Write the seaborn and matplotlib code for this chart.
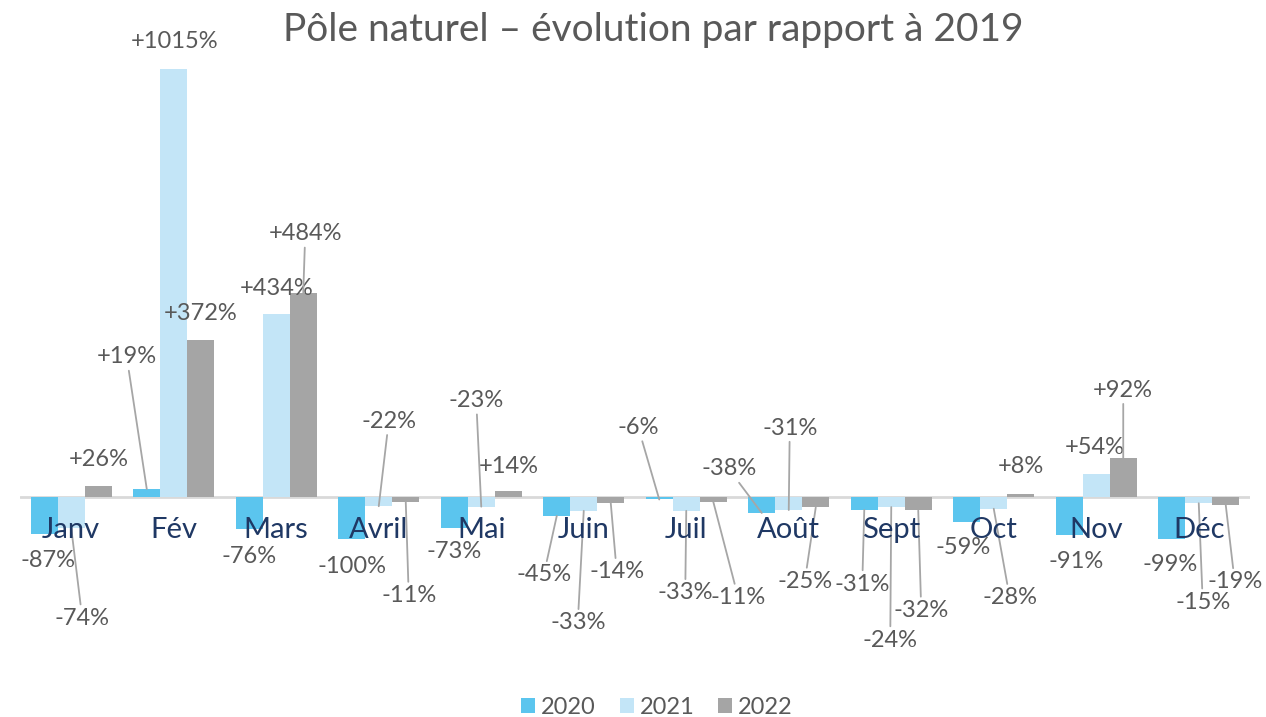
import matplotlib
matplotlib.use("Agg")
import matplotlib.pyplot as plt
import seaborn as sns
import pandas as pd

# ---- data ----
months = ["Janv", "Fév", "Mars", "Avril", "Mai", "Juin", "Juil", "Août", "Sept", "Oct", "Nov", "Déc"]
years = ["2020", "2021", "2022"]
v2020 = [-87, 19, -76, -100, -73, -45, -6, -38, -31, -59, -91, -99]
v2021 = [-74, 1015, 434, -22, -23, -33, -33, -31, -24, -28, 54, -15]
v2022 = [26, 372, 484, -11, 14, -14, -11, -25, -32, 8, 92, -19]
title = "Pôle naturel – évolution par rapport à 2019"

# label offsets (pixels, dx right, dy down) relative to bar end, and whether a leader line is drawn
off2020 = [(4, 27, 0), (-20, -132, 1), (0, 27, 0), (0, 27, 0), (0, 24, 0), (-13, 59, 1),
           (-21, -72, 1), (-33, -44, 1), (-2, 74, 1), (-4, 26, 0), (7, 26, 0), (-2, 26, 0)]
off2021 = [(11, 90, 1), (1, -27, 0), (0, -25, 0), (10, -85, 1), (-5, -106, 1), (-6, 112, 1),
           (-1, 82, 1), (1, -82, 1), (-1, 133, 1), (16, 89, 1), (-1, -27, 0), (4, 99, 1)]
off2022 = [(1, -26, 0), (0, -27, 0), (2, -59, 1), (3, 94, 1), (1, -25, 0), (6, 69, 1),
           (25, 96, 1), (-11, 74, 1), (3, 100, 1), (0, -27, 0), (0, -68, 1), (9, 77, 1)]

colors = ["#5BC5EE", "#C3E5F7", "#A5A5A5"]

df = pd.DataFrame({
    "mois": months * 3,
    "annee": [y for y in years for _ in months],
    "valeur": v2020 + v2021 + v2022,
})

sns.set_theme(style="white")
plt.rcParams["font.family"] = ["Lato", "DejaVu Sans"]

fig = plt.figure(figsize=(12.66, 7.17), dpi=100)
ax = fig.add_axes([20 / 1266, 37 / 717, 1230 / 1266, 620 / 717])

sns.barplot(data=df, x="mois", y="valeur", hue="annee", order=months, hue_order=years,
            palette=colors, saturation=1, width=0.79, ax=ax, zorder=2, legend=True,
            linewidth=0, edgecolor="none")

ax.set_xlim(-0.5, 11.5)
ax.set_ylim(-434, 1036)
ax.axhline(0, color="#D9D9D9", lw=2, zorder=1)
for s in ax.spines.values():
    s.set_visible(False)
ax.set_xticks([])
ax.set_yticks([])
ax.set_xlabel("")
ax.set_ylabel("")

label_color = "#595959"
offsets = [off2020, off2021, off2022]
series = [v2020, v2021, v2022]
for si, cont in enumerate(ax.containers):
    for mi, bar in enumerate(cont):
        val = series[si][mi]
        xc = bar.get_x() + bar.get_width() / 2
        dx, dy, lead = offsets[si][mi]
        txt = f"+{val}%" if val > 0 else f"-{abs(val)}%"
        kw = {}
        if lead:
            kw["arrowprops"] = dict(arrowstyle="-", color="#A6A6A6", lw=1.3,
                                    shrinkA=0, shrinkB=0)
        ax.annotate(txt, xy=(xc, val), xytext=(dx, -dy), textcoords="offset pixels",
                    ha="center", va="center", fontsize=17,
                    color=label_color, zorder=5, annotation_clip=False, **kw)

for mi, m in enumerate(months):
    ax.annotate(m, xy=(mi, 0), xytext=(0, -33), textcoords="offset pixels",
                ha="center", va="center", fontsize=21, color="#1F3864", zorder=6)

fig.text(653 / 1266, 1 - 30 / 717, title, ha="center", va="center",
         fontsize=28, color=label_color)

leg = ax.legend(loc="center", bbox_to_anchor=(657 / 1266, 1 - 707 / 717),
                bbox_transform=fig.transFigure, ncol=3, frameon=False,
                handlelength=0.6, handleheight=0.6, handletextpad=0.25,
                columnspacing=1.0, title=None, prop={"size": 17})
for t in leg.get_texts():
    t.set_color(label_color)

fig.savefig("out.png", dpi=100)
